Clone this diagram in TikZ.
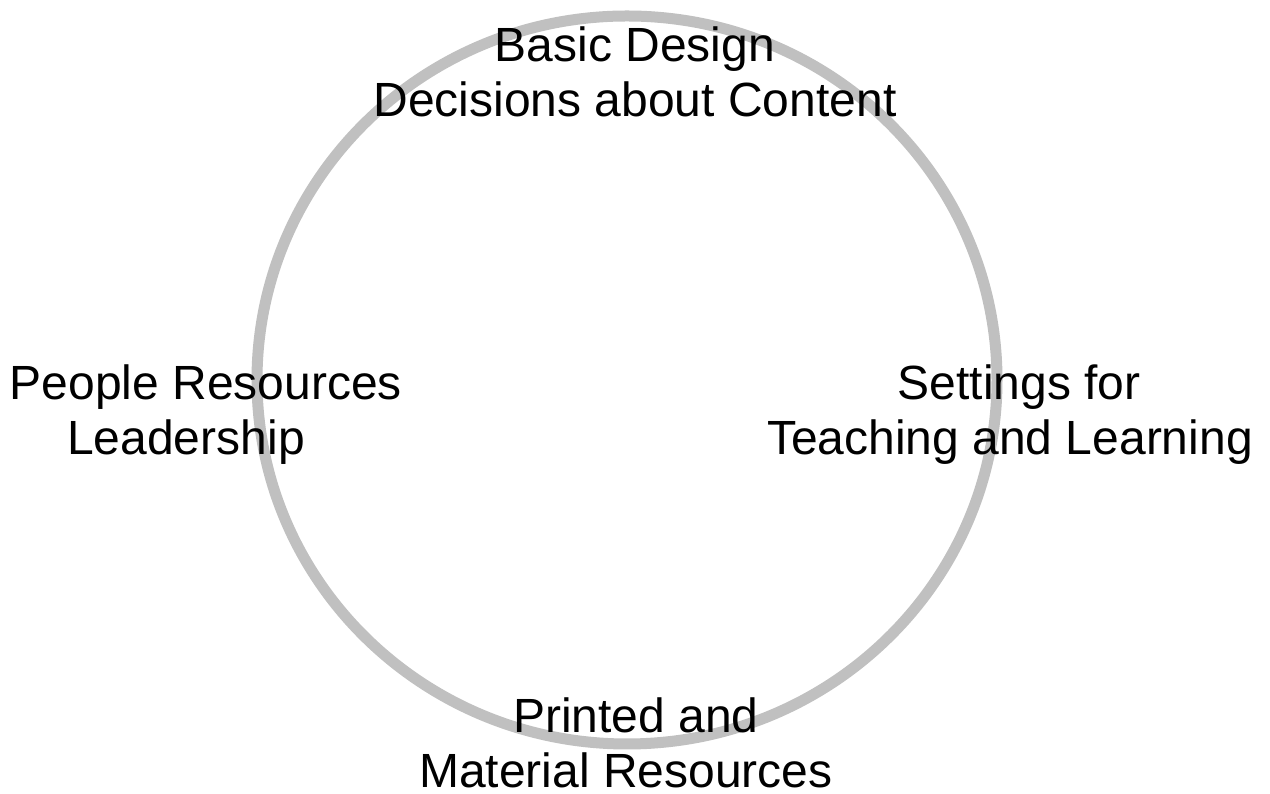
\documentclass[tikz,border=0pt]{standalone}
\usepackage{fontspec}
\setmainfont{Liberation Sans}
\begin{document}
\begin{tikzpicture}[x=1pt,y=1pt,
  ring/.style={draw=ringgray,line width=11pt},
  label/.style={align=center,inner sep=0pt,font=\fontsize{48}{55}\selectfont,text=black}]
\definecolor{ringgray}{HTML}{C0C0C0}
\useasboundingbox (0,0) rectangle (1270,794);
\fill[white] (0,0) rectangle (1270,794);
\draw[ring] (627,414) ellipse [x radius=370, y radius=364];
\node[label] (top) at (635,722) {Basic Design\\Decisions about Content};
\node[label] (left) at (206,379) {People Resources\\Leadership\hspace*{40pt}};
\node[label] (right) at (1010,379) {\hspace*{18pt}Settings for\\Teaching and Learning};
\node[label] (bottom) at (626,51) {\hspace*{20pt}Printed and\\Material Resources};
\end{tikzpicture}
\end{document}
